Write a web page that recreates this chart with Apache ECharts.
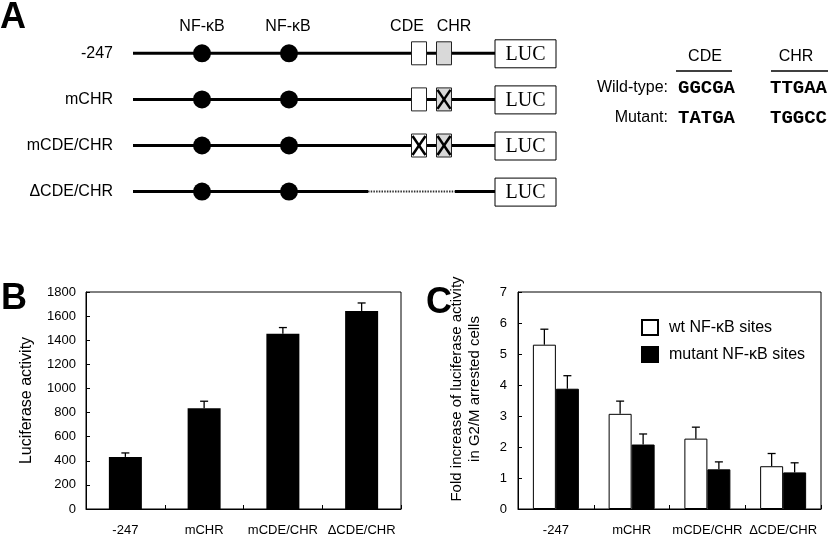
<!DOCTYPE html>
<html><head><meta charset="utf-8">
<script src="https://cdn.jsdelivr.net/npm/echarts@6/dist/echarts.min.js"></script>
<style>html,body{margin:0;padding:0;background:#fff}#c{width:828px;height:537px}</style>
</head><body><div id="c"></div>
<script>
// ---------- Panel A: promoter constructs (schematic units) ----------
const constructs = ['-247', 'mCHR', 'mCDE/CHR', 'ΔCDE/CHR'];
const nfkbSites = [69, 156];
const cdeSite = 286;
const chrSite = 311;
const cdeState = ['wt', 'wt', 'mut', 'del'];
const chrState = ['wt', 'mut', 'mut', 'del'];
const backboneStart = 0;
const lucStart = 362;
const lucEnd = 423;
const deletionSpan = [235, 322];
const siteLabels = ['NF-κB', 'NF-κB', 'CDE', 'CHR'];
const siteLabelX = [69, 155, 274, 321];
const siteLabelRow = -0.57;

// ---------- Sequence table ----------
const seqHeaders = ['CDE', 'CHR'];
const seqRowNames = ['Wild-type:', 'Mutant:'];
const seqCDE = ['GGCGA', 'TATGA'];
const seqCHR = ['TTGAA', 'TGGCC'];

// ---------- Panel B ----------
const catsB = ['-247', 'mCHR', 'mCDE/CHR', 'ΔCDE/CHR'];
const valsB = [432, 836, 1453, 1643];
const errB = [33, 58, 52, 66];
const yTicksB = [0, 200, 400, 600, 800, 1000, 1200, 1400, 1600, 1800];

// ---------- Panel C ----------
const catsC = ['-247', 'mCHR', 'mCDE/CHR', 'ΔCDE/CHR'];
const seriesNamesC = ['wt NF-κB sites', 'mutant NF-κB sites'];
const wtC = [5.3, 3.07, 2.27, 1.38];
const wtErrC = [0.5, 0.41, 0.37, 0.41];
const mutC = [3.88, 2.08, 1.28, 1.18];
const mutErrC = [0.42, 0.34, 0.24, 0.31];
const yTicksC = [0, 1, 2, 3, 4, 5, 6, 7];

const FONT = 'Liberation Sans, Arial, sans-serif';

// build schematic pieces
const segs = [];
constructs.forEach((c, r) => {
  if (cdeState[r] === 'del') {
    segs.push([backboneStart, r, deletionSpan[0], 0]);
    segs.push([deletionSpan[0], r, deletionSpan[1], 1]);
    segs.push([deletionSpan[1], r, lucStart, 0]);
  } else {
    segs.push([backboneStart, r, lucStart, 0]);
  }
});
const circles = [];
constructs.forEach((c, r) => nfkbSites.forEach(x => circles.push([x, r])));
const boxes = [];
constructs.forEach((c, r) => {
  if (cdeState[r] !== 'del') boxes.push([cdeSite, r, 0, cdeState[r] === 'mut' ? 1 : 0]);
  if (chrState[r] !== 'del') boxes.push([chrSite, r, 1, chrState[r] === 'mut' ? 1 : 0]);
});
const lucs = constructs.map((c, r) => [lucStart, r, lucEnd]);
const labelPts = siteLabelX.map(x => [x, siteLabelRow]);

function errRender(data, offset) {
  return function (params, api) {
    const d = data[params.dataIndex];
    const p0 = api.coord([d[0], d[1]]);
    const p1 = api.coord([d[0], d[1] + d[2]]);
    const x = p0[0] + offset;
    return {
      type: 'group', children: [
        { type: 'line', shape: { x1: x, y1: p0[1], x2: x, y2: p1[1] }, style: { stroke: '#000', lineWidth: 1.3 } },
        { type: 'line', shape: { x1: x - 4, y1: p1[1], x2: x + 4, y2: p1[1] }, style: { stroke: '#000', lineWidth: 1.3 } }
      ]
    };
  };
}
const errDataB = catsB.map((c, i) => [i, valsB[i], errB[i]]);
const errDataWt = catsC.map((c, i) => [i, wtC[i], wtErrC[i]]);
const errDataMut = catsC.map((c, i) => [i, mutC[i], mutErrC[i]]);

// table graphics
const graphics = [];
const hdrX = [705, 796];
const ulX = [[676, 732], [771, 828]];
seqHeaders.forEach((h, i) => {
  graphics.push({ type: 'text', x: hdrX[i], y: 57, style: { text: h, font: '16px ' + FONT, fill: '#000', textAlign: 'center', textVerticalAlign: 'middle' } });
  graphics.push({ type: 'line', shape: { x1: ulX[i][0], y1: 71, x2: ulX[i][1], y2: 71 }, style: { stroke: '#000', lineWidth: 1.5 } });
});
const rowY = [88, 118];
seqRowNames.forEach((n, i) => {
  graphics.push({ type: 'text', x: 668, y: rowY[i], style: { text: n, font: '16px ' + FONT, fill: '#000', textAlign: 'right', textVerticalAlign: 'middle' } });
  graphics.push({ type: 'text', x: 678, y: rowY[i], style: { text: seqCDE[i], font: 'bold 19px Liberation Mono, Courier New, monospace', fill: '#000', textAlign: 'left', textVerticalAlign: 'middle' } });
  graphics.push({ type: 'text', x: 770, y: rowY[i], style: { text: seqCHR[i], font: 'bold 19px Liberation Mono, Courier New, monospace', fill: '#000', textAlign: 'left', textVerticalAlign: 'middle' } });
});
[['A', 0, 18], ['B', 1, 299], ['C', 426, 303]].forEach(p => {
  graphics.push({ type: 'text', x: p[1], y: p[2], style: { text: p[0], font: 'bold 36px ' + FONT, fill: '#000', textAlign: 'left', textVerticalAlign: 'middle' } });
});
// panel C y-axis title (two lines, rotated)
graphics.push({ type: 'text', x: 466, y: 389, rotation: Math.PI / 2,
  style: { text: 'Fold increase of luciferase activity\nin G2/M arrested cells', font: '15px ' + FONT, lineHeight: 18,
    fill: '#000', textAlign: 'center', textVerticalAlign: 'middle' } });

const axisCommon = {
  axisLine: { show: true, lineStyle: { color: '#000', width: 1 } },
  axisTick: { show: true, inside: true, length: 4, lineStyle: { color: '#000' } },
  splitLine: { show: false }
};
const catTick = { show: true, inside: true, length: 4, interval: 0, alignWithLabel: false, lineStyle: { color: '#000' } };

const chart = echarts.init(document.getElementById('c'), null, { renderer: 'canvas' });
chart.setOption({
  animation: false,
  backgroundColor: '#fff',
  textStyle: { fontFamily: FONT },
  graphic: graphics,
  grid: [
    { left: 133, width: 423, top: 7.2, height: 207.45, show: false },
    { left: 86, right: 427, top: 292, bottom: 27, show: true, borderColor: '#000', borderWidth: 1 },
    { left: 518, right: 7, top: 292, bottom: 27, show: true, borderColor: '#000', borderWidth: 1 }
  ],
  xAxis: [
    { gridIndex: 0, type: 'value', min: 0, max: lucEnd, show: false },
    Object.assign({ gridIndex: 1, type: 'category', data: catsB,
      axisLabel: { color: '#000', fontSize: 13, margin: 15, interval: 0 } }, axisCommon, { axisTick: catTick }),
    Object.assign({ gridIndex: 2, type: 'category', data: catsC,
      axisLabel: { color: '#000', fontSize: 13, margin: 15, interval: 0 } }, axisCommon, { axisTick: catTick })
  ],
  yAxis: [
    { gridIndex: 0, type: 'value', inverse: true, min: -1, max: 3.5, interval: 1,
      axisLine: { show: false }, axisTick: { show: false }, splitLine: { show: false },
      axisLabel: { show: true, margin: 20, color: '#000', fontSize: 16,
        formatter: v => (Number.isInteger(v) && v >= 0 && v < constructs.length) ? constructs[v] : '' } },
    Object.assign({ gridIndex: 1, type: 'value', min: yTicksB[0], max: yTicksB[yTicksB.length - 1], interval: 200,
      name: 'Luciferase activity', nameLocation: 'middle', nameRotate: 90, nameGap: 51,
      nameTextStyle: { color: '#000', fontSize: 16 },
      axisLabel: { color: '#000', fontSize: 13, margin: 10, formatter: v => String(v) } }, axisCommon),
    Object.assign({ gridIndex: 2, type: 'value', min: yTicksC[0], max: yTicksC[yTicksC.length - 1], interval: 1,
      axisLabel: { color: '#000', fontSize: 13, margin: 11, formatter: v => String(v) } }, axisCommon)
  ],
  legend: {
    data: seriesNamesC, orient: 'vertical', left: 636, top: 314, itemWidth: 16, itemHeight: 15, itemGap: 10,
    icon: 'rect', textStyle: { color: '#000', fontSize: 16, padding: [0, 0, 0, 6] }
  },
  series: [
    // Panel A
    { type: 'custom', xAxisIndex: 0, yAxisIndex: 0, data: segs, clip: false, z: 1,
      renderItem: (params, api) => {
        const s = segs[params.dataIndex];
        const a = api.coord([s[0], s[1]]), b = api.coord([s[2], s[1]]);
        return { type: 'line', shape: { x1: a[0], y1: a[1], x2: b[0], y2: b[1] },
          style: s[3] ? { stroke: '#333', lineWidth: 2, lineDash: [1.5, 1.2] } : { stroke: '#000', lineWidth: 3 } };
      } },
    { type: 'scatter', xAxisIndex: 0, yAxisIndex: 0, data: circles, symbol: 'circle', symbolSize: 18,
      itemStyle: { color: '#000', opacity: 1 }, z: 3 },
    { type: 'custom', xAxisIndex: 0, yAxisIndex: 0, data: boxes, clip: false, z: 4,
      renderItem: (params, api) => {
        const b = boxes[params.dataIndex];
        const c = api.coord([b[0], b[1]]);
        const x0 = c[0] - 7.5, y0 = c[1] - 11.5, w = 15, h = 23;
        const ch = [{ type: 'rect', shape: { x: x0, y: y0, width: w, height: h },
          style: { fill: b[2] ? '#d9d9d9' : '#fff', stroke: '#222', lineWidth: 1 } }];
        if (b[3]) {
          ch.push({ type: 'line', shape: { x1: x0 + 1, y1: y0 + 2, x2: x0 + w - 1, y2: y0 + h - 2 }, style: { stroke: '#000', lineWidth: 2.5 } });
          ch.push({ type: 'line', shape: { x1: x0 + w - 1, y1: y0 + 2, x2: x0 + 1, y2: y0 + h - 2 }, style: { stroke: '#000', lineWidth: 2.5 } });
        }
        return { type: 'group', children: ch };
      } },
    { type: 'custom', xAxisIndex: 0, yAxisIndex: 0, data: lucs, clip: false, z: 4,
      renderItem: (params, api) => {
        const l = lucs[params.dataIndex];
        const a = api.coord([l[0], l[1]]), b = api.coord([l[2], l[1]]);
        return { type: 'group', children: [
          { type: 'rect', shape: { x: a[0], y: a[1] - 13.5, width: b[0] - a[0], height: 28 },
            style: { fill: '#fff', stroke: '#000', lineWidth: 1 } },
          { type: 'text', x: (a[0] + b[0]) / 2, y: a[1] + 1,
            style: { text: 'LUC', font: '20px Liberation Serif, Times New Roman, serif', fill: '#000', textAlign: 'center', textVerticalAlign: 'middle' } }
        ] };
      } },
    { type: 'custom', xAxisIndex: 0, yAxisIndex: 0, data: labelPts, clip: false, z: 4,
      renderItem: (params, api) => {
        const p = labelPts[params.dataIndex];
        const c = api.coord(p);
        return { type: 'text', x: c[0], y: c[1],
          style: { text: siteLabels[params.dataIndex], font: '16px ' + FONT, fill: '#000', textAlign: 'center', textVerticalAlign: 'middle' } };
      } },
    // Panel B
    { type: 'bar', xAxisIndex: 1, yAxisIndex: 1, data: valsB, barWidth: 33, itemStyle: { color: '#000' }, z: 2 },
    { type: 'custom', xAxisIndex: 1, yAxisIndex: 1, data: errDataB, z: 3, renderItem: errRender(errDataB, 0) },
    // Panel C
    { type: 'bar', name: seriesNamesC[0], xAxisIndex: 2, yAxisIndex: 2, data: wtC, barWidth: 23, barGap: '0%',
      itemStyle: { color: '#fff', borderColor: '#000', borderWidth: 1 }, z: 2 },
    { type: 'bar', name: seriesNamesC[1], xAxisIndex: 2, yAxisIndex: 2, data: mutC, barWidth: 23, barGap: '0%',
      itemStyle: { color: '#000', borderColor: '#000', borderWidth: 1 }, z: 2 },
    { type: 'custom', xAxisIndex: 2, yAxisIndex: 2, data: errDataWt, z: 3, renderItem: errRender(errDataWt, -11.5) },
    { type: 'custom', xAxisIndex: 2, yAxisIndex: 2, data: errDataMut, z: 3, renderItem: errRender(errDataMut, 11.5) }
  ]
});
</script>
</body></html>
